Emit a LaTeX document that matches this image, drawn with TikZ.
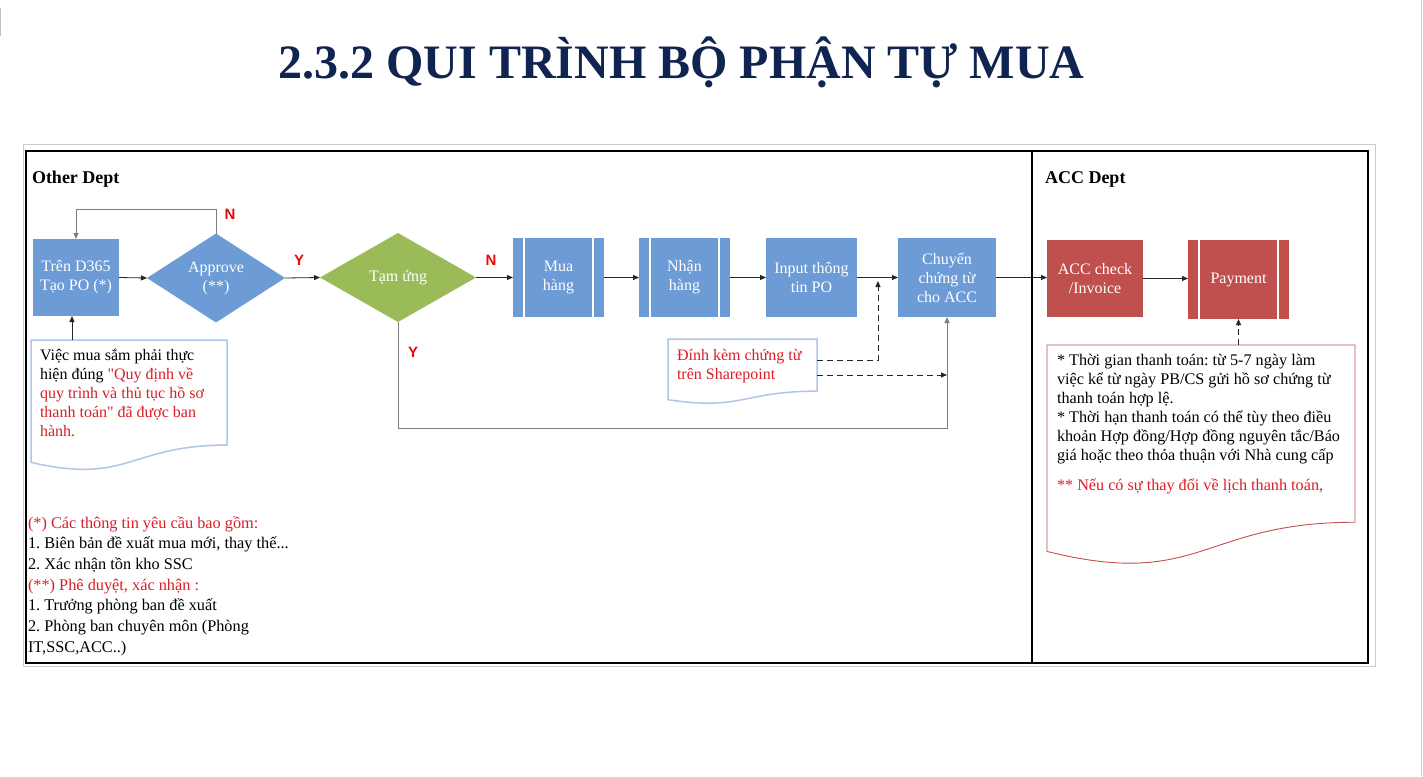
\documentclass[tikz,border=0pt]{standalone}
\usepackage{fontspec}
\setmainfont{Liberation Serif}[Ligatures=TeXOff]
\newfontfamily\lblfont{Liberation Sans}
\usetikzlibrary{shapes.geometric,arrows.meta,calc}
\definecolor{boxblue}{RGB}{108,155,213}
\definecolor{boxred}{RGB}{192,80,77}
\definecolor{boxgreen}{RGB}{155,187,89}
\definecolor{notered}{RGB}{218,30,40}
\definecolor{lblred}{RGB}{230,10,10}
\definecolor{navy}{RGB}{16,36,82}
\definecolor{noteblue}{RGB}{176,198,230}
\definecolor{linegray}{RGB}{125,125,125}
\newcommand\firstln{\rule{0pt}{17pt}}
\newcommand\docoutline[3]{%
  \draw[#2, line width=#3] (#1.north west) -- (#1.north east)
    -- ($(#1.north east)!0.802!(#1.south east)$)
    .. controls ($(#1.north)!0.802!(#1.south)$) and ($(#1.north)!1.1075!(#1.south)$)
    .. ($(#1.north west)!0.934!(#1.south west)$) -- cycle;}
\frenchspacing
\begin{document}
\begin{tikzpicture}[x=1pt,y=-1pt,
  every node/.style={inner sep=0pt, outer sep=0pt},
  boxtxt/.style={text=white, align=center, font=\fontsize{16}{19}\selectfont},
  predef/.style={path picture={
    \draw[white, line width=2.5pt] ([xshift=11pt]path picture bounding box.north west) -- ([xshift=11pt]path picture bounding box.south west);
    \draw[white, line width=2.5pt] ([xshift=-11pt]path picture bounding box.north east) -- ([xshift=-11pt]path picture bounding box.south east);}},
  arr/.style={-{Triangle[length=6pt,width=5pt]}, line width=0.8pt, draw=black!85},
  dsh/.style={dash pattern=on 6pt off 4pt},
  yn/.style={font=\lblfont\bfseries\fontsize{15}{15}\selectfont, text=lblred},
  txtblk/.style={anchor=north west, align=left, font=\fontsize{16}{19}\selectfont},
  hdr/.style={anchor=base west, font=\bfseries\fontsize{18}{18}\selectfont}
]
\useasboundingbox (0,0) rectangle (1423,776);
\fill[white] (0,0) rectangle (1423,776);
% page marks
\draw[black!20, line width=1pt] (1421,0) -- (1421,776);
\draw[black!25, line width=1pt] (0.5,8) -- (0.5,36);
% title
\node[anchor=base, text=navy, font=\bfseries\fontsize{48}{48}\selectfont] (title) at (681.5,78) {2.3.2 QUI TRÌNH BỘ PHẬN TỰ MUA};
% frames
\draw[black!20, line width=1pt] (23,144) rectangle (1375,666);
\draw[black, line width=1.3pt] (26,151) rectangle (1368,663);
\draw[black, line width=1.1pt] (1032,151) -- (1032,663);
\node[hdr] (hother) at (32,183) {Other Dept};
\node[hdr] (hacc) at (1045,183) {ACC Dept};
% process nodes
\node[boxtxt, fill=boxblue, minimum width=86pt, minimum height=77pt] (po) at (76,277.5) {Trên D365\\Tạo PO (*)};
\node[boxtxt, diamond, fill=boxblue, minimum width=138pt, minimum height=88pt] (appr) at (216,278) {Approve\\(**)};
\node[boxtxt, diamond, fill=boxgreen, minimum width=156pt, minimum height=89pt] (tam) at (398,277.5) {Tạm ứng};
\node[boxtxt, predef, fill=boxblue, minimum width=91pt, minimum height=79pt] (mua) at (558.5,277.5) {Mua\\hàng};
\node[boxtxt, predef, fill=boxblue, minimum width=91pt, minimum height=79pt] (nhan) at (684.5,277.5) {Nhận\\hàng};
\node[boxtxt, fill=boxblue, minimum width=91pt, minimum height=79pt] (input) at (811.5,277.5) {Input thông\\tin PO};
\node[boxtxt, fill=boxblue, minimum width=98pt, minimum height=79pt] (chuyen) at (947,277.5) {Chuyển\\chứng từ\\cho ACC};
\node[boxtxt, fill=boxred, minimum width=96pt, minimum height=77pt] (acc) at (1095,278.5) {ACC check\\/Invoice};
\node[boxtxt, predef, fill=boxred, minimum width=101pt, minimum height=79pt] (pay) at (1238.5,279.5) {Payment};
% connectors
\coordinate (loopy) at (0,209);
\draw[arr, draw=linegray] (appr.north) -- (appr.north |- loopy) -| (po.north);
\draw[arr] (po.east) -- (appr.west);
\draw[arr] (appr.east) -- (tam.west);
\draw[arr] (tam.east) -- (mua.west);
\draw[arr] (mua.east) -- (nhan.west);
\draw[arr] (nhan.east) -- (input.west);
\draw[arr] (input.east) -- (chuyen.west);
\coordinate (ybot) at (0,428);
\draw[arr, draw=linegray] (tam.south) -- (tam.south |- ybot) -| (chuyen.south);
\draw[arr] (chuyen.east) -- (chuyen.east -| acc.west);
\draw[arr] (acc.east) -- (acc.east -| pay.west);
% labels
\node[yn] (lN1) at (230,214) {N};
\node[yn] (lY1) at (299,260) {Y};
\node[yn] (lN2) at (491,260) {N};
\node[yn] (lY2) at (413,352) {Y};
% note 1
\node[minimum width=196pt, minimum height=131pt, anchor=north west] (note1) at (31,340) {};
\docoutline{note1}{noteblue}{1.5pt}
\coordinate (n1top) at (72,340);
\draw[arr] (n1top) -- (n1top |- po.south);
\node[txtblk] (t1) at (40,343) {\firstln Việc mua sắm phải thực\\hiện đúng \textcolor{notered}{"Quy định về}\\\textcolor{notered}{quy trình và thủ tục hồ sơ}\\\textcolor{notered}{thanh toán" đã được ban}\\\textcolor{notered}{hành.}};
% note 3
\node[minimum width=149pt, minimum height=65pt, anchor=north west] (note3) at (668,339) {};
\docoutline{note3}{noteblue}{1.5pt}
\node[txtblk, text=notered] (t3) at (677,343) {\firstln Đính kèm chứng từ\\trên Sharepoint};
\coordinate (d1) at ($(note3.north east)+(0,21)$);
\coordinate (j1) at (878,281);
\draw[arr, dsh] (d1) -| (j1);
\coordinate (d2) at ($(note3.north east)+(0,36)$);
\draw[arr, dsh] (d2) -- (d2 -| chuyen.south);
% note 2
\node[minimum width=308pt, minimum height=221pt, anchor=north west] (note2) at (1047,345) {};
\docoutline{note2}{boxred}{0.9pt}
\draw[arr, dsh] (pay.south |- note2.north) -- (pay.south);
\node[txtblk, font=\fontsize{16.2}{19}\selectfont] (t2) at (1057,348) {\firstln * Thời gian thanh toán: từ 5-7 ngày làm\\việc kể từ ngày PB/CS gửi hồ sơ chứng từ\\thanh toán hợp lệ.\\* Thời hạn thanh toán có thể tùy theo điều\\khoản Hợp đồng/Hợp đồng nguyên tắc/Báo\\giá hoặc theo thỏa thuận với Nhà cung cấp\\[11pt]\textcolor{notered}{** Nếu có sự thay đổi về lịch thanh toán,}};
% bottom-left notes
\node[txtblk, font=\fontsize{16.3}{20.7}\selectfont] (t4) at (28,511) {\firstln\textcolor{notered}{(*) Các thông tin yêu cầu bao gồm:}\\1. Biên bản đề xuất mua mới, thay thế...\\2. Xác nhận tồn kho SSC\\\textcolor{notered}{(**) Phê duyệt, xác nhận :}\\1. Trưởng phòng ban đề xuất\\2. Phòng ban chuyên môn (Phòng\\IT,SSC,ACC..)};
\end{tikzpicture}
\end{document}
